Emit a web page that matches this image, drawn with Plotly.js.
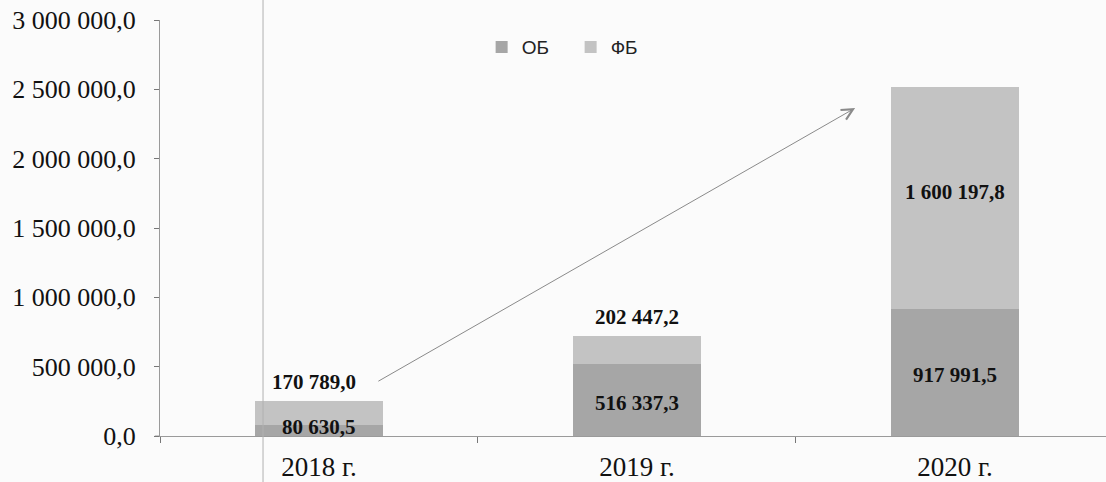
<!DOCTYPE html>
<html>
<head>
<meta charset="utf-8">
<script src="https://cdn.plot.ly/plotly-3.0.1.min.js"></script>
<style>
  html, body { margin: 0; padding: 0; background: #fbfbfb; }
  #chart { width: 1106px; height: 482px; }
</style>
</head>
<body>
<div id="chart"></div>
<script>
// Data
var categories = ['2018 г.', '2019 г.', '2020 г.'];
var obValues = [80630.5, 516337.3, 917991.5];     // ОБ
var fbValues = [170789.0, 202447.2, 1600197.8];   // ФБ
var seriesNames = ['ОБ', 'ФБ'];
var yTicks = [0, 500000, 1000000, 1500000, 2000000, 2500000, 3000000];

function fmt(v) {
  var s = v.toFixed(1).split('.');
  var intPart = s[0].replace(/\B(?=(\d{3})+(?!\d))/g, ' ');
  return intPart + ',' + s[1];
}

var serif = '"Liberation Serif", "Times New Roman", serif';
var colOB = '#a6a6a6';
var colFB = '#c3c3c3';

var traces = [
  { type: 'bar', name: seriesNames[0], x: categories, y: obValues,
    marker: { color: colOB }, hoverinfo: 'none' },
  { type: 'bar', name: seriesNames[1], x: categories, y: fbValues,
    marker: { color: colFB }, hoverinfo: 'none' }
];

var annotations = [];
var labelFont = { family: serif, size: 21, color: '#111' };
categories.forEach(function (c, i) {
  annotations.push({
    x: c, y: obValues[i] / 2, xref: 'x', yref: 'y',
    text: '<b>' + fmt(obValues[i]) + '</b>', showarrow: false,
    font: labelFont, yanchor: 'middle', yshift: i === 0 ? 3 : -3
  });
  var total = obValues[i] + fbValues[i];
  if (fbValues[i] < 400000) {
    annotations.push({
      x: c, y: total, xref: 'x', yref: 'y',
      text: '<b>' + fmt(fbValues[i]) + '</b>', showarrow: false,
      font: labelFont, yanchor: 'bottom', yshift: 5, xshift: i === 0 ? -5 : 0
    });
  } else {
    annotations.push({
      x: c, y: obValues[i] + fbValues[i] / 2, xref: 'x', yref: 'y',
      text: '<b>' + fmt(fbValues[i]) + '</b>', showarrow: false,
      font: labelFont, yanchor: 'middle', yshift: 6
    });
  }
});

// Growth arrow (from 2018 bar toward 2020 bar top)
annotations.push({
  xref: 'x', yref: 'y', axref: 'x', ayref: 'y',
  x: 1.686, y: 2365000, ax: 0.182, ay: 389000,
  text: '', showarrow: true, arrowhead: 5, arrowsize: 2.2,
  arrowwidth: 1, arrowcolor: '#8a8a8a'
});

var layout = {
  width: 1106, height: 482,
  paper_bgcolor: '#fbfbfb', plot_bgcolor: '#fbfbfb',
  margin: { l: 160, r: 0, t: 20, b: 46 },
  barmode: 'stack',
  bargap: 0.6,
  separators: ', ',
  showlegend: true,
  legend: {
    orientation: 'h', x: 0.34, y: 0.935, xanchor: 'left', yanchor: 'middle',
    bgcolor: 'rgba(0,0,0,0)',
    font: { family: '"Liberation Sans", Arial, sans-serif', size: 19, color: '#222' },
    traceorder: 'normal',
    entrywidth: 44, itemwidth: 30
  },
  xaxis: {
    type: 'category',
    range: [-0.5, 2.475],
    showline: true, linecolor: '#9a9a9a', linewidth: 1,
    ticks: 'outside', tickson: 'boundaries', ticklen: 6, tickcolor: '#777',
    tickfont: { family: serif, size: 27, color: '#111' },
    ticklabelstandoff: 7,
    showgrid: false, zeroline: false, fixedrange: true
  },
  yaxis: {
    range: [0, 3000000],
    tickvals: yTicks,
    tickformat: ',.1f',
    showline: true, linecolor: '#9a9a9a', linewidth: 1,
    ticks: 'outside', ticklen: 5, tickcolor: '#777',
    tickfont: { family: serif, size: 26, color: '#111' },
    ticklabelstandoff: 13,
    showgrid: false, zeroline: false, fixedrange: true
  },
  annotations: annotations,
  shapes: [
    { type: 'line', xref: 'paper', yref: 'paper', x0: 0.1089, x1: 0.1089,
      y0: -0.12, y1: 1.06, line: { color: '#b0b0b0', width: 1 } },
    { type: 'line', xref: 'paper', yref: 'y', x0: -0.0055, x1: 0, y0: 0, y1: 0,
      line: { color: '#9a9a9a', width: 1 } }
  ]
};

Plotly.newPlot('chart', traces, layout, { staticPlot: true, displayModeBar: false });
</script>
</body>
</html>
